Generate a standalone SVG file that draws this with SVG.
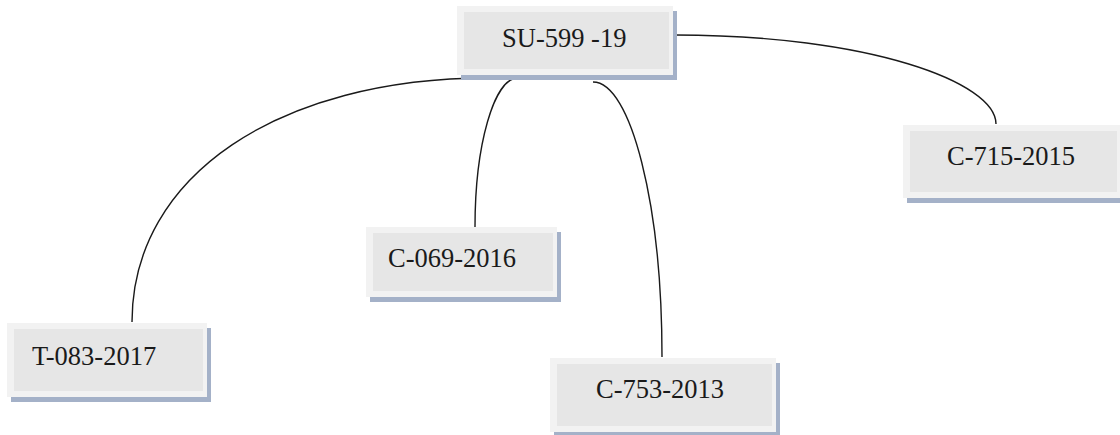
<svg xmlns="http://www.w3.org/2000/svg" width="1120" height="435" viewBox="0 0 1120 435">
  <style>
    .shadow { fill: #a4b1c8; }
    .outer { fill: #f2f2f2; }
    .inner { fill: #e6e6e6; }
    .label { font-family: "Liberation Serif", "Times New Roman", serif; font-size: 26.5px; fill: #1a1a1a; }
    .conn { fill: none; stroke: #1a1a1a; stroke-width: 1.4; }
  </style>
  <rect width="1120" height="435" fill="#ffffff"/>
  <g id="connectors">
    <path class="conn" d="M 488 78 C 280 78, 132 175, 132 322"/>
    <path class="conn" d="M 518 78 C 494 78, 475 145, 475 227"/>
    <path class="conn" d="M 593 82 C 631 82, 662 205, 662 357"/>
    <path class="conn" d="M 675 35 C 868 35, 996 82, 996 124"/>
  </g>
  <g id="node-su-599-19">
    <rect class="shadow" x="461" y="11" width="216" height="69"/>
    <rect class="outer" x="457" y="6" width="216" height="69"/>
    <rect class="inner" x="464" y="12" width="205" height="57"/>
    <text class="label" x="502" y="47">SU-599 -19</text>
  </g>
  <g id="node-t-083-2017">
    <rect class="shadow" x="11" y="328" width="200" height="74"/>
    <rect class="outer" x="7" y="323" width="200" height="74"/>
    <rect class="inner" x="14" y="329" width="189" height="62"/>
    <text class="label" x="32" y="365">T-083-2017</text>
  </g>
  <g id="node-c-069-2016">
    <rect class="shadow" x="370" y="232" width="191" height="70"/>
    <rect class="outer" x="366" y="227" width="191" height="70"/>
    <rect class="inner" x="373" y="233" width="180" height="58"/>
    <text class="label" x="388" y="267">C-069-2016</text>
  </g>
  <g id="node-c-753-2013">
    <rect class="shadow" x="554" y="363" width="226" height="74"/>
    <rect class="outer" x="550" y="358" width="226" height="74"/>
    <rect class="inner" x="557" y="364" width="215" height="62"/>
    <text class="label" x="596" y="398">C-753-2013</text>
  </g>
  <g id="node-c-715-2015">
    <rect class="shadow" x="907" y="130" width="218" height="73"/>
    <rect class="outer" x="903" y="125" width="218" height="73"/>
    <rect class="inner" x="910" y="131" width="207" height="61"/>
    <text class="label" x="947" y="165">C-715-2015</text>
  </g>
</svg>
